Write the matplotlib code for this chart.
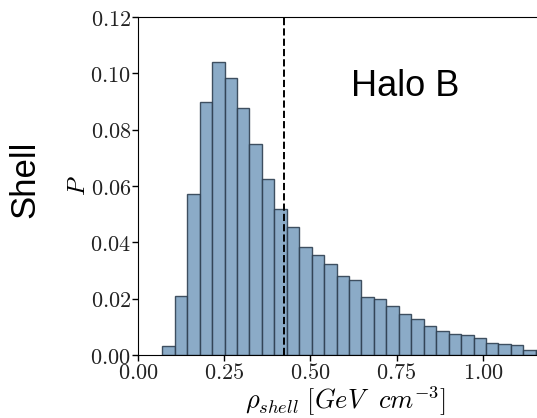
import numpy as np
import matplotlib.pyplot as plt

plt.rcParams['mathtext.fontset'] = 'cm'
plt.rcParams['font.family'] = 'serif'
plt.rcParams['font.serif'] = ['DejaVu Serif']

# normalised histogram of the shell density (fraction per bin)
bin_start = 0.0704
bin_width = 0.0361
probs = [0.0032, 0.0208, 0.0571, 0.0897, 0.1040, 0.0982, 0.0878, 0.0749,
         0.0625, 0.0518, 0.0453, 0.0383, 0.0355, 0.0324, 0.0282, 0.0265,
         0.0207, 0.0200, 0.0175, 0.0147, 0.0129, 0.0103, 0.0085, 0.0075,
         0.0071, 0.0061, 0.0044, 0.0038, 0.0034, 0.0019, 0.0018]
median_rho = 0.424

xticks = [0.0, 0.25, 0.5, 0.75, 1.0]
yticks = [0.0, 0.02, 0.04, 0.06, 0.08, 0.10, 0.12]

edges = bin_start + bin_width * np.arange(len(probs))

fig = plt.figure(figsize=(5.37, 4.18), dpi=100)
ax = fig.add_axes([0.257, 0.1507, 0.743, 0.8086])

ax.bar(edges, probs, width=bin_width, align='edge',
       color='#7fa2c1', alpha=0.9, edgecolor='#2f4052', linewidth=1.0)
ax.axvline(median_rho, color='black', ls='--', lw=1.4)

ax.set_xlim(0, 1.157)
ax.set_ylim(0, 0.12)
ax.set_xticks(xticks)
ax.set_xticklabels(['$%.2f$' % t for t in xticks])
ax.set_yticks(yticks)
ax.set_yticklabels(['$%.2f$' % t for t in yticks])
ax.tick_params(labelsize=16, length=4, width=1, direction='out', pad=1,
               labelcolor='#222222')
ax.spines['right'].set_visible(False)

ax.set_xlabel(r'$\rho_{shell}\ [GeV\ \ cm^{-3}]$', fontsize=19, labelpad=0)
ax.xaxis.set_label_coords(0.519, -0.088)
ax.set_ylabel('$P$', fontsize=18, labelpad=0)

fig.text(0.047, 0.572, 'Shell', rotation=90, fontsize=25, family='Liberation Sans',
         ha='center', va='center')
ax.text(0.754, 0.794, 'Halo B', transform=fig.transFigure, fontsize=26,
        family='Liberation Sans', ha='center', va='center')

fig.savefig('out.png', dpi=100)
